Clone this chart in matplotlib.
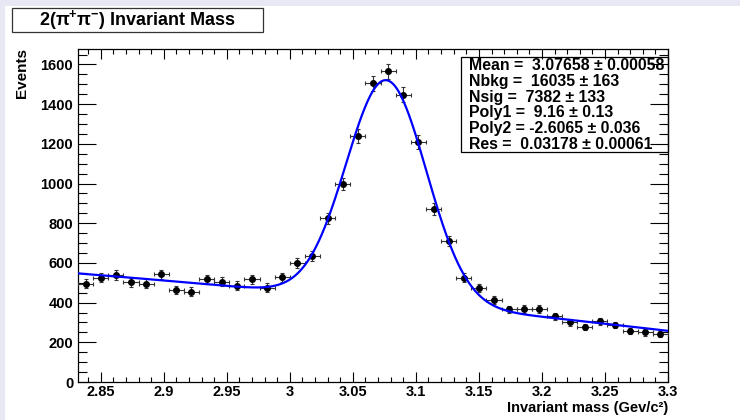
"""2(pi+ pi-) invariant mass spectrum with Gaussian + polynomial fit, ROOT look."""
import matplotlib
matplotlib.use("Agg")
import matplotlib.pyplot as plt  # noqa: E402
import numpy as np  # noqa: E402
from matplotlib.patches import Rectangle  # noqa: E402
from matplotlib.ticker import FixedLocator, FixedFormatter, MultipleLocator  # noqa: E402

# --- data (bin centres, GeV/c^2, and counts) ---
bin_centers = [2.838, 2.850, 2.862, 2.874, 2.886, 2.898, 2.910, 2.922, 2.934, 2.946,
               2.958, 2.970, 2.982, 2.994, 3.006, 3.018, 3.030, 3.042, 3.054, 3.066,
               3.078, 3.090, 3.102, 3.114, 3.126, 3.138, 3.150, 3.162, 3.174, 3.186,
               3.198, 3.210, 3.222, 3.234, 3.246, 3.258, 3.270, 3.282, 3.294]
counts = [495, 525, 539, 502, 495, 542, 463, 455, 517, 505,
          485, 517, 475, 527, 601, 635, 825, 997, 1238, 1505,
          1565, 1447, 1209, 870, 710, 525, 474, 415, 366, 369,
          369, 331, 302, 277, 307, 287, 257, 250, 243]
bin_width = 0.012

# --- fit results shown in the stats box ---
MEAN, MEAN_ERR = 3.07658, 0.00058
NBKG, NBKG_ERR = 16035, 163
NSIG, NSIG_ERR = 7382, 133
POLY1, POLY1_ERR = 9.16, 0.13
POLY2, POLY2_ERR = -2.6065, 0.036
RES, RES_ERR = 0.03178, 0.00061

XMIN, XMAX = 2.832, 3.3
YMAX = 1678
xtick_vals = [2.85, 2.9, 2.95, 3.0, 3.05, 3.1, 3.15, 3.2, 3.25, 3.3]
xtick_labels = ["2.85", "2.9", "2.95", "3", "3.05", "3.1", "3.15", "3.2", "3.25", "3.3"]
ytick_vals = [0, 200, 400, 600, 800, 1000, 1200, 1400, 1600]

plt.rcParams.update({
    "font.family": "Liberation Sans", "font.weight": "bold",
    "mathtext.fontset": "custom", "mathtext.rm": "Liberation Sans:bold",
    "mathtext.it": "Liberation Sans:bold", "mathtext.bf": "Liberation Sans:bold",
    "mathtext.default": "rm",
})

W, H = 740, 420
fig = plt.figure(figsize=(W / 100, H / 100), dpi=100)
fig.patch.set_facecolor("white")
# screenshot border (lavender strips on left and top)
fig.add_artist(Rectangle((0, 0), 5 / W, 1, transform=fig.transFigure,
                         fc="#e8e8f4", ec="none", zorder=0))
fig.add_artist(Rectangle((0, 1 - 6 / H), 1, 6 / H, transform=fig.transFigure,
                         fc="#e8e8f4", ec="none", zorder=0))

ax = fig.add_axes([78 / W, 38 / H, 590 / W, 333 / H])

x = np.array(bin_centers)
y = np.array(counts, dtype=float)
ax.errorbar(x, y, yerr=np.sqrt(y), xerr=bin_width / 2, fmt="o", color="black",
            ms=4, ecolor="#333333", elinewidth=0.8, capsize=1.5, capthick=0.8, zorder=3)

# fit model: Gaussian signal + quadratic background, scaled to counts per bin
xs = np.linspace(XMIN, XMAX, 400)
bkg_shape = 1 + POLY1 * xs + POLY2 * xs ** 2
bkg = NBKG * bkg_shape / np.trapezoid(bkg_shape, xs)
sig = NSIG * np.exp(-0.5 * ((xs - MEAN) / RES) ** 2) / (np.sqrt(2 * np.pi) * RES)
ax.plot(xs, bin_width * (sig + bkg), color="#0000ff", lw=1.6, zorder=4)

ax.set_xlim(XMIN, XMAX)
ax.set_ylim(0, YMAX)
ax.xaxis.set_major_locator(FixedLocator(xtick_vals))
ax.xaxis.set_major_formatter(FixedFormatter(xtick_labels))
ax.xaxis.set_minor_locator(MultipleLocator(0.01))
ax.yaxis.set_major_locator(FixedLocator(ytick_vals))
ax.yaxis.set_minor_locator(MultipleLocator(50))
ax.tick_params(axis="x", which="major", direction="in", length=7.2, width=0.8,
               top=True, pad=2.4, labelsize=10.5)
ax.tick_params(axis="x", which="minor", direction="in", length=3.6, width=0.8, top=True)
ax.tick_params(axis="y", which="major", direction="in", length=13, width=0.8,
               right=True, pad=3.5, labelsize=10.5)
ax.tick_params(axis="y", which="minor", direction="in", length=6.5, width=0.8, right=True)
for sp in ax.spines.values():
    sp.set_linewidth(0.9)

# stats box
ax.add_patch(Rectangle((461 / W, 1 - 152 / H), 207 / W, 95 / H, transform=fig.transFigure,
                       fc="white", ec="black", lw=0.9, zorder=1, clip_on=False))
stats = [
    f"Mean =  {MEAN:.5f} ± {MEAN_ERR:.5f}",
    f"Nbkg =  {NBKG} ± {NBKG_ERR}",
    f"Nsig =  {NSIG} ± {NSIG_ERR}",
    f"Poly1 =  {POLY1:.2f} ± {POLY1_ERR:.2f}",
    f"Poly2 = {POLY2:.4f} ± {POLY2_ERR:.3f}",
    f"Res =  {RES:.5f} ± {RES_ERR:.5f}",
]
for i, line in enumerate(stats):
    fig.text(469 / W, 1 - (65.5 + 15.8 * i) / H, line, ha="left", va="center",
             fontsize=11.4, fontweight="bold", zorder=6)

# title box
fig.add_artist(Rectangle((12 / W, 1 - 32 / H), 251 / W, 24 / H, transform=fig.transFigure,
                         fc="white", ec="#333333", lw=0.9, zorder=5))
fig.text(137 / W, 1 - 20 / H, "2(π$^{+}$π$^{-}$) Invariant Mass", ha="center",
         va="center", fontsize=13, fontweight="bold", zorder=6)

fig.text(22 / W, 1 - 48 / H, "Events", rotation=90, ha="center", va="top",
         fontsize=11, fontweight="bold")
fig.text(668 / W, 1 - 401 / H, "Invariant mass (Gev/c²)", ha="right", va="top",
         fontsize=10.5, fontweight="bold")

fig.savefig("out.png", dpi=100)
